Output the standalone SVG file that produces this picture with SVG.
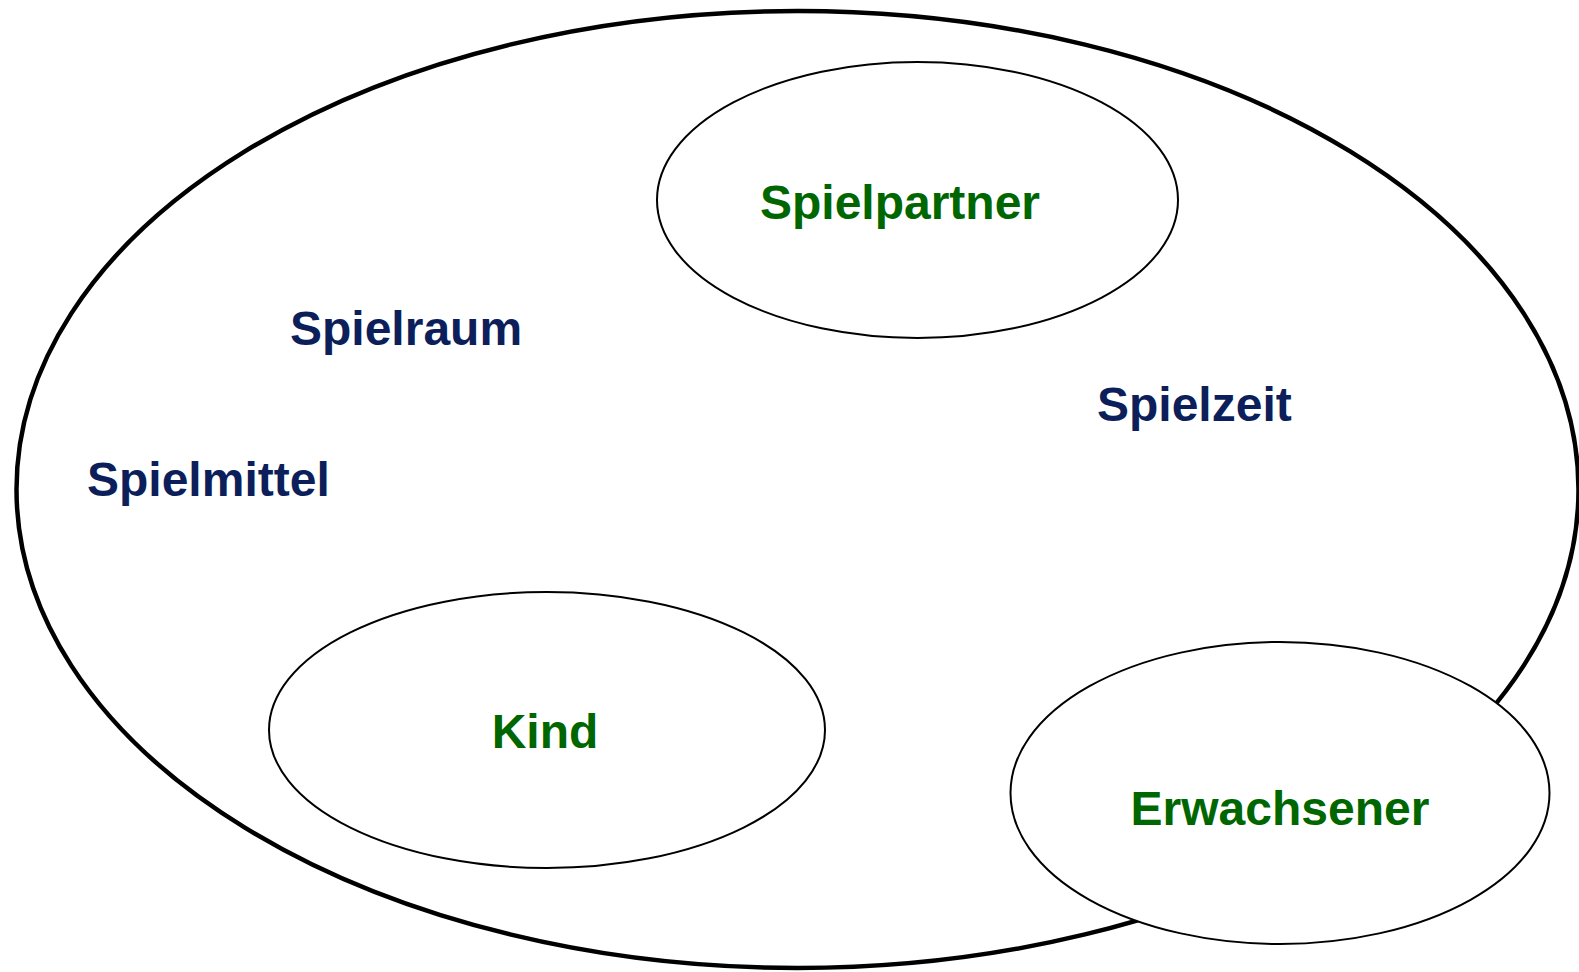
<svg xmlns="http://www.w3.org/2000/svg" width="1579" height="972" viewBox="0 0 1579 972">
<style>
.outer{fill:#ffffff;stroke:#000000;stroke-width:4.5}
.node{fill:#ffffff;stroke:#000000;stroke-width:2}
.lbl{font-family:"Liberation Sans",Arial,sans-serif;font-weight:bold;font-size:48px}
.green{fill:#006600}
.navy{fill:#0c1f5a}
</style>
<rect width="1579" height="972" fill="#ffffff"/>
<g id="umwelt">
<ellipse class="outer" cx="797.5" cy="489.5" rx="781" ry="478.5"/>
</g>
<g id="spielraum"><text class="lbl navy" x="290" y="345">Spielraum</text></g>
<g id="spielmittel"><text class="lbl navy" x="87" y="496">Spielmittel</text></g>
<g id="spielzeit"><text class="lbl navy" x="1097" y="421">Spielzeit</text></g>
<g id="spielpartner">
<ellipse class="node" cx="917.5" cy="200" rx="260.5" ry="138"/>
<text class="lbl green" x="900" y="219" text-anchor="middle">Spielpartner</text>
</g>
<g id="kind">
<ellipse class="node" cx="547" cy="730" rx="278" ry="138"/>
<text class="lbl green" x="545" y="748" text-anchor="middle">Kind</text>
</g>
<g id="erwachsener">
<ellipse class="node" cx="1280" cy="793" rx="269.5" ry="151"/>
<text class="lbl green" x="1280" y="825" text-anchor="middle">Erwachsener</text>
</g>
<g id="connectors"></g>
</svg>
